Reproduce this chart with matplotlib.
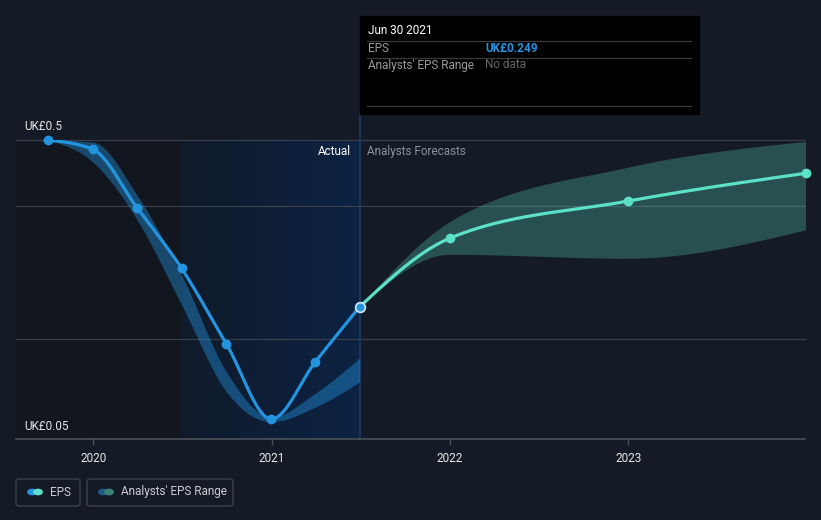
import numpy as np
import matplotlib
matplotlib.use("Agg")
import matplotlib.pyplot as plt
import matplotlib.dates as mdates
from matplotlib.patches import Rectangle, FancyBboxPatch, Circle
from datetime import datetime

plt.rcParams['font.family'] = ['Roboto', 'DejaVu Sans']

# actual EPS (GBP)
eps_dates = ["2019-09-30", "2019-12-31", "2020-03-31", "2020-06-30",
             "2020-09-30", "2020-12-31", "2021-03-31", "2021-06-30"]
eps_values = [0.500, 0.486, 0.398, 0.307, 0.193, 0.080, 0.166, 0.249]

# past analyst range
range_low = [0.500, 0.467, 0.380, 0.252, 0.121, 0.076, 0.098, 0.136]
range_high = [0.500, 0.497, 0.417, 0.297, 0.151, 0.083, 0.119, 0.172]

# forecasts
fc_dates = ["2021-06-30", "2021-12-31", "2022-12-31", "2023-12-31"]
fc_values = [0.249, 0.352, 0.408, 0.450]
fc_low = [0.249, 0.328, 0.322, 0.365]
fc_high = [0.249, 0.377, 0.459, 0.498]

year_ticks = [2020, 2021, 2022, 2023]

BG = "#151b26"
BLUE = "#2394df"
TEAL = "#5de0c8"

W, H = 821, 520


def monotone(x, y, n=300):
    # d3 style monotoneX curve
    x = np.asarray(x, float)
    y = np.asarray(y, float)
    h = np.diff(x)
    d = np.diff(y) / h
    m = np.zeros_like(y)
    for i in range(1, len(y) - 1):
        s = (d[i - 1] * h[i] + d[i] * h[i - 1]) / (h[i - 1] + h[i])
        m[i] = (np.sign(d[i - 1]) + np.sign(d[i])) * min(abs(d[i - 1]), abs(d[i]), 0.5 * abs(s))
    m[0] = (3 * d[0] - m[1]) / 2 if len(y) > 2 else d[0]
    m[-1] = (3 * d[-1] - m[-2]) / 2 if len(y) > 2 else d[-1]
    xs = np.linspace(x[0], x[-1], n)
    idx = np.clip(np.searchsorted(x, xs) - 1, 0, len(x) - 2)
    t = (xs - x[idx]) / h[idx]
    h00 = 2 * t**3 - 3 * t**2 + 1
    h10 = t**3 - 2 * t**2 + t
    h01 = -2 * t**3 + 3 * t**2
    h11 = t**3 - t**2
    ys = h00 * y[idx] + h10 * h[idx] * m[idx] + h01 * y[idx + 1] + h11 * h[idx] * m[idx + 1]
    return xs, ys


def fpos(px, py):
    return px / W, 1 - py / H


ex = mdates.date2num([datetime.fromisoformat(d) for d in eps_dates])
fx = mdates.date2num([datetime.fromisoformat(d) for d in fc_dates])

fig = plt.figure(figsize=(W / 100, H / 100), dpi=100, facecolor=BG)
ax = fig.add_axes([16 / W, (H - 439) / H, (805 - 16) / W, (439 - 140) / H])
ax.set_facecolor(BG)

x0 = mdates.date2num(datetime(2019, 7, 27))
x1 = mdates.date2num(datetime(2023, 12, 29))
ax.set_xlim(x0, x1)
ax.set_ylim(0.05, 0.5)

# shaded periods
split = mdates.date2num(datetime(2020, 6, 30))
now = ex[-1]
ax.add_patch(Rectangle((x0, 0.05), split - x0, 0.45, color="#12161e", zorder=0, lw=0))
c_a = np.array(matplotlib.colors.to_rgb("#0f1a2a"))
c_b = np.array(matplotlib.colors.to_rgb("#0c2242"))
nseg = 40
edges = np.linspace(split, now, nseg + 1)
for i in range(nseg):
    f = i / (nseg - 1)
    ax.add_patch(Rectangle((edges[i], 0.05), edges[i + 1] - edges[i] + 0.5, 0.45,
                           color=c_a + (c_b - c_a) * f, lw=0, antialiased=False, zorder=0.5))

# grid
for v in [0.5, 0.4, 0.2]:
    ax.axhline(v, color="#383e4a", lw=0.9, zorder=1, clip_on=False)

# cursor line
ax.axvline(now, ymin=0, ymax=(439 - 114) / (439 - 140), color="#1c3a66", lw=1.2,
           zorder=1, clip_on=False)

# analyst range (past)
bx, bl = monotone(ex, range_low)
_, bh = monotone(ex, range_high)
ax.fill_between(bx, bl, bh, color=BLUE, alpha=0.42, lw=0, zorder=2)

# forecast range
fxs, fl = monotone(fx, fc_low)
_, fh = monotone(fx, fc_high)
ax.fill_between(fxs, fl, fh, color=TEAL, alpha=0.27, lw=0, zorder=2)

# EPS lines
lx, ly = monotone(ex, eps_values)
ax.plot(lx, ly, color=BLUE, lw=2.3, zorder=4, solid_capstyle="round")
ax.plot(ex[:-1], eps_values[:-1], "o", color=BLUE, ms=6, zorder=5, clip_on=False)
gx, gy = monotone(fx, fc_values)
ax.plot(gx, gy, color=TEAL, lw=2.3, zorder=4, clip_on=False)
ax.plot(fx[1:], fc_values[1:], "o", color=TEAL, ms=6, zorder=5, clip_on=False)
ax.plot([ex[-1]], [eps_values[-1]], "o", color=BLUE, ms=7, mec="#d6e8f7", mew=1.2, zorder=6)

# axes styling
for s in ["top", "right", "left"]:
    ax.spines[s].set_visible(False)
ax.spines["bottom"].set_color("#4a505a")
ax.spines["bottom"].set_linewidth(1.2)
ax.set_yticks([])
ax.set_xticks(mdates.date2num([datetime(y, 1, 1) for y in year_ticks]))
ax.set_xticklabels([str(y) for y in year_ticks])
ax.tick_params(axis="x", colors="#4a505a", labelcolor="#e6e6e6", length=4, width=1,
               labelsize=8.5, pad=5)

# text labels
fig.text(*fpos(24, 127), "UK£0.5", color="#e6e6e6", fontsize=8.5, va="center", ha="left")
fig.text(*fpos(24, 427), "UK£0.05", color="#e6e6e6", fontsize=8.5, va="center", ha="left")
fig.text(*fpos(351, 151), "Actual", color="#ffffff", fontsize=8.5, va="center", ha="right")
fig.text(*fpos(367, 151), "Analysts Forecasts", color="#8b919b", fontsize=8.5, va="center", ha="left")

# tooltip
tx, ty = fpos(360, 114)
fig.add_artist(Rectangle((tx, ty), (699 - 360) / W, (114 - 16) / H, transform=fig.transFigure,
                         color="#000000", zorder=10))
for yy in [41, 58, 106]:
    a, b = fpos(367, yy)
    fig.add_artist(plt.Line2D([a, 691 / W], [b, b], transform=fig.transFigure,
                              color="#3a3a3a", lw=0.9, zorder=11))
fig.text(*fpos(368, 31), "Jun 30 2021", color="#ffffff", fontsize=8.5, va="center", zorder=12)
fig.text(*fpos(368, 48), "EPS", color="#9a9a9a", fontsize=8.5, va="center", zorder=12)
fig.text(*fpos(485, 48), "UK£0.249", color=BLUE, fontsize=8.5, fontweight="bold", va="center", zorder=12)
fig.text(*fpos(368, 65), "Analysts' EPS Range", color="#9a9a9a", fontsize=8.5, va="center", zorder=12)
fig.text(*fpos(485, 65), "No data", color="#666666", fontsize=8.5, va="center", zorder=12)

# legend
legend_items = [("EPS", 16, 80, BLUE, TEAL), ("Analysts' EPS Range", 87, 233, "#1f5a8a", "#3f807a")]
for label, lx0, lx1, c1, c2 in legend_items:
    a, b = fpos(lx0, 506)
    fig.add_artist(FancyBboxPatch((a, b), (lx1 - lx0) / W, 27 / H, transform=fig.transFigure,
                                  boxstyle="round,pad=0,rounding_size=0.004",
                                  fc="none", ec="#3d424c", lw=1))
    for cx, cc in [(lx0 + 16, c1), (lx0 + 22, c2)]:
        fig.add_artist(Circle(fpos(cx, 492), 4.2 / W, transform=fig.transFigure, color=cc))
    fig.text(*fpos(lx0 + 34, 492), label, color="#c8ccd2", fontsize=8.5, va="center")

fig.savefig("out.png", dpi=100, facecolor=BG)
